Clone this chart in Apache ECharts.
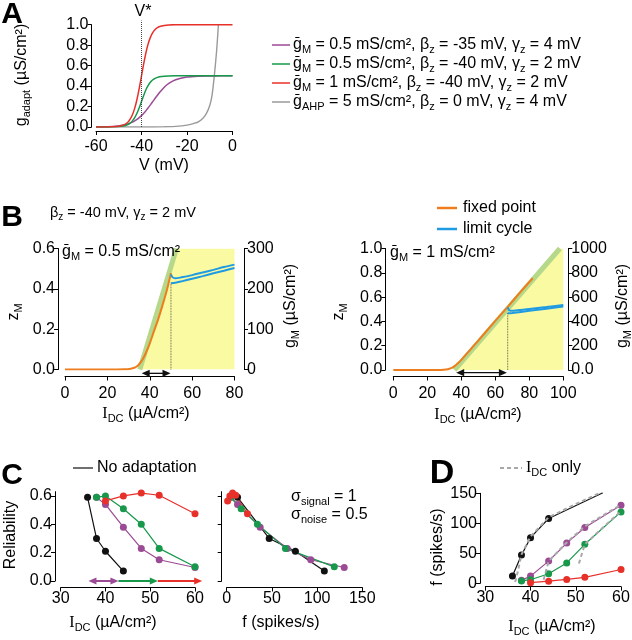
<!DOCTYPE html>
<html><head><meta charset="utf-8">
<script src="https://cdn.jsdelivr.net/npm/echarts@6/dist/echarts.min.js"></script>
<style>html,body{margin:0;padding:0;background:#fff}#c{width:632px;height:640px}</style>
</head><body><div id="c"></div>
<script>
// ---------------- DATA ----------------
// Panel A : adaptation conductance vs V
const vA = [-60,-55,-50,-48,-46,-45,-44,-43,-42,-41,-40,-39,-38,-37,-36,-35,-34,-33,-32,-30,-28,-25,-20,-15,-10,-5,0];
const gPurpleA = [0.001,0.003,0.011,0.019,0.030,0.038,0.048,0.060,0.074,0.091,0.111,0.134,0.160,0.189,0.219,0.250,0.281,0.311,0.339,0.389,0.426,0.462,0.488,0.497,0.499,0.500,0.500];
const gGreenA  = [0.000,0.001,0.004,0.009,0.024,0.038,0.060,0.091,0.135,0.189,0.250,0.311,0.366,0.409,0.440,0.462,0.476,0.485,0.491,0.496,0.499,0.500,0.500,0.500,0.500,0.500,0.500];
const gRedA    = [0.000,0.001,0.007,0.018,0.047,0.076,0.119,0.182,0.269,0.378,0.500,0.622,0.731,0.818,0.881,0.924,0.953,0.971,0.982,0.993,0.998,1.000,1.000,1.000,1.000,1.000,1.000];
const vGrayA = [-60,-40,-30,-25,-20,-17,-15,-13,-11.5,-10,-9,-8,-7,-6.2];
const gGrayA = [0,0,0.002,0.006,0.018,0.035,0.05,0.085,0.13,0.21,0.31,0.5,0.74,1.0];
const vStarLine = [[-40,0],[-40,1.04]];
const legendA = [
  'ḡ_{M} = 0.5 mS/cm², β_{z} = -35 mV, γ_{z} = 4 mV',
  'ḡ_{M} = 0.5 mS/cm², β_{z} = -40 mV, γ_{z} = 2 mV',
  'ḡ_{M} = 1 mS/cm², β_{z} = -40 mV, γ_{z} = 2 mV',
  'ḡ_{AHP} = 5 mS/cm², β_{z} = 0 mV, γ_{z} = 4 mV'
];
// Panel B left (gM = 0.5)
const yellowBL = [[35.3,0],[52.6,0.6],[80,0.6]];
const greenBL  = [[35.3,0],[52.6,0.6]];
const orangeBL = [[0,0],[20,0],[28,0.001],[31,0.004],[33,0.01],[34,0.016],[35,0.026],[36,0.04],[37,0.057],[38,0.078],[40,0.13],[42,0.19],[44,0.25],[46,0.318],[48,0.39],[50,0.478]];
const blueUpBL = [[50,0.472],[50.7,0.458],[52,0.452],[55,0.457],[60,0.468],[65,0.481],[70,0.494],[75,0.508],[80,0.52]];
const blueLoBL = [[50,0.428],[52,0.43],[55,0.437],[60,0.45],[65,0.463],[70,0.477],[75,0.49],[80,0.503]];
const dotBL = [[50,0],[50,0.43]];
const arrowBL = [[36.2,49.8,-0.019,1,1]];
// Panel B right (gM = 1)
const yellowBR = [[36,0],[98,1],[100,1]];
const greenBR  = [[36,0],[98,1]];
const orangeBR = [[0,0],[20,0],[28,0.001],[31,0.004],[33,0.01],[35,0.022],[36,0.032],[37,0.043],[38,0.055],[40,0.083],[45,0.162],[50,0.242],[60,0.404],[67.3,0.52],[75,0.645],[82,0.755]];
const blueUpBR = [[67.3,0.515],[68,0.495],[69,0.488],[72,0.49],[80,0.502],[90,0.518],[100,0.535]];
const blueLoBR = [[67.3,0.468],[68,0.468],[70,0.47],[80,0.487],[90,0.505],[100,0.522]];
const dotBR = [[67.3,0],[67.3,0.47]];
const arrowBR = [[37,66.8,-0.022,1,1]];
// Panels C & D
const iBlack = [36,38,40,44];            const relBlack = [0.59,0.30,0.21,0.07];  const fBlack = [12,47,76,108];
const iPurple = [38,40,44,48,52,60];     const relPurple = [0.59,0.54,0.38,0.23,0.15,0.095]; const fPurple = [5,12,37,67,93,130];
const iGreen = [38,40,44,48,52,60];      const relGreen = [0.59,0.60,0.51,0.40,0.23,0.10];  const fGreen = [4,6,16,34,65,119];
const iRed = [40,44,48,52,60];           const relRed = [0.565,0.60,0.62,0.605,0.475];     const fRed = [1,3.5,6.5,10,23];
const noAdaptExtI = [56], noAdaptExtF = [151];
// [from, to, level, head at start, head at end]
const arrowCRed = [[51.7,61.6,0,0,1]], arrowCGreen = [[42.9,51.7,0,0,1]], arrowCPurple = [[36.2,42.9,0,1,1]];
const idcOnlyI1 = [36.6,37.2,38,40,44,50,56], idcOnlyF1 = [2,20,48,78,110,132,153];
const idcOnlyI2 = [42.9,43.4,44,48,52,56,60], idcOnlyF2 = [6,20,37,68,95,113,131];
const idcOnlyI3 = [50.7,51.3,52,56,60],       idcOnlyF3 = [33,48,65,93,120];
const relTicks = [0,0.2,0.4,0.6];

// ---------------- STYLE ----------------
const FONT = "'Liberation Sans', Arial, Helvetica, sans-serif";
const SERIF = "'Liberation Serif', 'Times New Roman', serif";
const PURPLE='#9b4a94', GREEN='#17984a', RED='#e8302a', GRAY='#9a9a9a', BLACK='#111111';
const ORANGE='#ee7d1e', BLUE='#1e9be2', LGREEN='#b5d88a', YELLOW='#fafaa2', DASHGRAY='#a8a8a8';

const zip = (xs, ys) => xs.map((x,i)=>[x, ys[i]]);
const f1 = v => v.toFixed(1);

function ax(o){
  const base = {type:'value', splitLine:{show:false},
    axisLine:{show:true, onZero:false, lineStyle:{color:'#000', width:1}},
    axisTick:{show:true, length:4, inside:false, lineStyle:{color:'#000', width:1}},
    axisLabel:{show:true, color:'#000', fontSize:16, fontFamily:FONT, margin:3}};
  for (const k in o){
    if (base[k] && typeof base[k]==='object' && typeof o[k]==='object' && !Array.isArray(o[k])) base[k]=Object.assign({}, base[k], o[k]);
    else base[k]=o[k];
  }
  return base;
}
function line(xi, yi, data, color, w, extra){
  return Object.assign({type:'line', xAxisIndex:xi, yAxisIndex:yi, data:data, symbol:'none',
    lineStyle:{color:color, width:w}, itemStyle:{color:color}, silent:true}, extra||{});
}
function dots(xi, yi, data, color, extra){
  return Object.assign({type:'line', xAxisIndex:xi, yAxisIndex:yi, data:data, symbol:'circle', symbolSize:7,
    showSymbol:true, lineStyle:{color:color, width:1.2}, itemStyle:{color:color}, silent:true}, extra||{});
}
// arrows drawn through the axes' scales (api.coord)
function arrows(xi, yi, rows, color, w){
  return {type:'custom', xAxisIndex:xi, yAxisIndex:yi, data:rows, clip:false, silent:true, z:6,
    encode:{x:[0,1], y:2},
    renderItem:function(params, api){
      const y = api.value(2);
      const p0 = api.coord([api.value(0), y]);
      const p1 = api.coord([api.value(1), y]);
      const hs = api.value(3), he = api.value(4);
      const L = 8, H = 3.6;
      const ch = [{type:'line', shape:{x1:p0[0]+(hs?L-1:0), y1:p0[1], x2:p1[0]-(he?L-1:0), y2:p1[1]},
        style:{stroke:color, lineWidth:w, fill:null}}];
      if (hs) ch.push({type:'polygon', shape:{points:[[p0[0],p0[1]],[p0[0]+L,p0[1]-H],[p0[0]+L,p0[1]+H]]}, style:{fill:color}});
      if (he) ch.push({type:'polygon', shape:{points:[[p1[0],p1[1]],[p1[0]-L,p1[1]-H],[p1[0]-L,p1[1]+H]]}, style:{fill:color}});
      return {type:'group', children:ch};
    }};
}

// rich text: _{sub}, !{serif}
function rt(s){
  const re=/([_!])\{([^}]*)\}/g; let out='', last=0, m;
  while((m=re.exec(s))){
    if (m.index>last) out+='{n|'+s.slice(last,m.index)+'}';
    out+='{'+(m[1]==='_'?'s':'i')+'|'+m[2]+'}';
    last=re.lastIndex;
  }
  if (last<s.length) out+='{n|'+s.slice(last)+'}';
  return out;
}
function richOf(fs){
  return {
    n:{fontSize:fs, fontFamily:FONT},
    s:{fontSize:Math.round(fs*0.68), fontFamily:FONT, padding:[Math.round(fs*0.55),0,0,0]},
    i:{fontSize:fs, fontFamily:SERIF}
  };
}
function txt(x,y,s,o){ o=o||{}; const fs=o.fs||16;
  return {type:'text', x:x, y:y, rotation:o.rot||0, silent:true, z:50,
    style:{text:rt(s), rich:richOf(fs), fill:'#000', fontSize:fs, fontFamily:FONT, align:o.align||'left', verticalAlign:'middle'}};
}
function big(x,y,s,fs){ return {type:'text', x:x, y:y, silent:true, z:50,
  style:{text:s, fill:'#000', font:'bold '+fs+'px '+FONT, align:'center', verticalAlign:'middle'}}; }
function seg(x1,y1,x2,y2,color,w,dash){ return {type:'line', silent:true, z:50, shape:{x1:x1,y1:y1,x2:x2,y2:y2},
  style:{stroke:color, lineWidth:w, lineDash:dash||null}}; }
const ROT = Math.PI/2;

// ---------------- OPTION ----------------
const grids = [
  {left:96, top:24.7, width:136.5, height:102.3},
  {left:65, top:248.5, width:169.5, height:121},
  {left:393.3, top:248.5, width:170, height:121.5},
  {left:60.7, top:491.7, width:134.3, height:89.3},
  {left:226.7, top:491.7, width:135.6, height:89.3},
  {left:485.3, top:493.3, width:135.7, height:90}
].map(g=>Object.assign({outerBoundsMode:'none', containLabel:false, show:false}, g));

const xAxes = [
  ax({gridIndex:0, min:-60, max:0, interval:20, position:'bottom', offset:4, axisLabel:{margin:8}}),
  ax({gridIndex:1, min:0, max:80, interval:20, position:'bottom', offset:7, axisLabel:{margin:9}}),
  ax({gridIndex:2, min:0, max:100, interval:20, position:'bottom', offset:6.5, axisLabel:{margin:9}}),
  ax({gridIndex:3, min:30, max:60, interval:10, position:'bottom', offset:6.5}),
  ax({gridIndex:4, min:0, max:150, interval:50, position:'bottom', offset:6.5}),
  ax({gridIndex:5, min:30, max:60, interval:10, position:'bottom', offset:3.4})
];
const yAxes = [
  ax({gridIndex:0, min:0, max:1, interval:0.2, position:'left', offset:4.5, axisLabel:{formatter:f1}}),
  ax({gridIndex:1, min:0, max:0.6, interval:0.2, position:'left', offset:7, axisLabel:{formatter:f1}}),
  ax({gridIndex:1, min:0, max:300, interval:100, position:'right', offset:9.5}),
  ax({gridIndex:2, min:0, max:1, interval:0.2, position:'left', offset:8, axisLabel:{formatter:f1}}),
  ax({gridIndex:2, min:0, max:1000, interval:200, position:'right', offset:5, axisLabel:{formatter:v=>v===0?'0.0':String(v)}}),
  ax({gridIndex:3, min:0, max:0.63, position:'left', offset:5.7, axisTick:{customValues:relTicks}, axisLabel:{customValues:relTicks, formatter:f1}}),
  ax({gridIndex:4, min:0, max:0.63, position:'left', offset:5, axisTick:{customValues:relTicks}, axisLabel:{show:false}}),
  ax({gridIndex:5, min:0, max:150, interval:50, position:'left', offset:5.3})
];

const series = [
  // A
  line(0,0, zip(vGrayA,gGrayA), GRAY, 1.4, {smooth:0.3}),
  line(0,0, zip(vA,gPurpleA), PURPLE, 1.5, {smooth:0.3}),
  line(0,0, zip(vA,gGreenA), GREEN, 1.5, {smooth:0.3}),
  line(0,0, zip(vA,gRedA), RED, 1.5, {smooth:0.3}),
  line(0,0, vStarLine, '#444', 1, {clip:false, lineStyle:{color:'#444', width:1, type:'dotted'}}),
  // B left
  line(1,1, yellowBL, YELLOW, 0, {lineStyle:{width:0, opacity:0}, areaStyle:{color:YELLOW, opacity:1}, z:1}),
  line(1,1, greenBL, LGREEN, 5, {z:2}),
  line(1,1, orangeBL, ORANGE, 2, {z:3, smooth:0.3}),
  line(1,1, blueUpBL, BLUE, 2, {z:3, smooth:0.3}),
  line(1,1, blueLoBL, BLUE, 2, {z:3, smooth:0.3}),
  line(1,1, dotBL, '#333', 0.8, {z:3, clip:false, lineStyle:{color:'#333', width:0.8, type:'dotted'}}),
  arrows(1,1, arrowBL, BLACK, 1.3),
  // B right
  line(2,3, yellowBR, YELLOW, 0, {lineStyle:{width:0, opacity:0}, areaStyle:{color:YELLOW, opacity:1}, z:1}),
  line(2,3, greenBR, LGREEN, 5, {z:2}),
  line(2,3, orangeBR, ORANGE, 2, {z:3, smooth:0.3}),
  line(2,3, blueUpBR, BLUE, 2, {z:3, smooth:0.3}),
  line(2,3, blueLoBR, BLUE, 2, {z:3, smooth:0.3}),
  line(2,3, dotBR, '#333', 0.8, {z:3, clip:false, lineStyle:{color:'#333', width:0.8, type:'dotted'}}),
  arrows(2,3, arrowBR, BLACK, 1.3),
  // C left
  dots(3,5, zip(iBlack,relBlack), BLACK),
  dots(3,5, zip(iPurple,relPurple), PURPLE),
  dots(3,5, zip(iGreen,relGreen), GREEN),
  dots(3,5, zip(iRed,relRed), RED),
  arrows(3,5, arrowCRed, RED, 2),
  arrows(3,5, arrowCGreen, GREEN, 2),
  arrows(3,5, arrowCPurple, PURPLE, 2),
  // C right
  dots(4,6, zip(fBlack,relBlack), BLACK),
  dots(4,6, zip(fPurple,relPurple), PURPLE),
  dots(4,6, zip(fGreen,relGreen), GREEN),
  dots(4,6, zip(fRed,relRed), RED),
  // D
  dots(5,7, zip(iBlack,fBlack).concat(zip(noAdaptExtI,noAdaptExtF).map(p=>({value:p, symbol:'none'}))), BLACK),
  dots(5,7, zip(iPurple,fPurple), PURPLE),
  dots(5,7, zip(iGreen,fGreen), GREEN),
  dots(5,7, zip(iRed,fRed), RED),
  line(5,7, zip(idcOnlyI1,idcOnlyF1), DASHGRAY, 2, {lineStyle:{color:DASHGRAY, width:2, type:[4,3]}, z:4}),
  line(5,7, zip(idcOnlyI2,idcOnlyF2), DASHGRAY, 2, {lineStyle:{color:DASHGRAY, width:2, type:[4,3]}, z:4}),
  line(5,7, zip(idcOnlyI3,idcOnlyF3), DASHGRAY, 2, {lineStyle:{color:DASHGRAY, width:2, type:[4,3]}, z:4})
];

const legendAColors = [PURPLE, GREEN, RED, GRAY];
const legendAY = [45, 64, 83, 102];
const graphics = [
  big(12,15,'A',30), big(12,218,'B',30), big(12,476,'C',30), big(442,474,'D',34),
  txt(143,12,'V*',{align:'center'}),
  txt(22,75,'g_{adapt} (µS/cm²)',{rot:ROT, align:'center'}),
  txt(164,166,'V (mV)',{align:'center'}),
  txt(50,213,'β_{z} = -40 mV, γ_{z} = 2 mV',{fs:14.5}),
  txt(62,252,'ḡ_{M} = 0.5 mS/cm²'),
  txt(390,253,'ḡ_{M} = 1 mS/cm²'),
  seg(437,208,457,208,ORANGE,2.5), txt(463,208,'fixed point'),
  seg(437,229,457,229,BLUE,2.5), txt(463,229,'limit cycle'),
  txt(14,312,'z_{M}',{rot:ROT, align:'center'}),
  txt(339,312,'z_{M}',{rot:ROT, align:'center'}),
  txt(291,306,'g_{M} (µS/cm²)',{rot:ROT, align:'center'}),
  txt(623,306,'g_{M} (µS/cm²)',{rot:ROT, align:'center'}),
  txt(146,414,'!{I}_{DC} (µA/cm²)',{align:'center'}),
  txt(478,415,'!{I}_{DC} (µA/cm²)',{align:'center'}),
  seg(73,468,93,468,BLACK,1.2), txt(97,468,'No adaptation'),
  txt(11,535,'Reliability',{rot:ROT, align:'center'}),
  txt(113,623,'!{I}_{DC} (µA/cm²)',{align:'center'}),
  txt(281,623,'f (spikes/s)',{align:'center'}),
  txt(291,497,'σ_{signal} = 1'),
  txt(291,515,'σ_{noise} = 0.5'),
  seg(500,468,522,468,DASHGRAY,2,[4,3]), txt(526,468,'!{I}_{DC} only'),
  txt(438,547,'f (spikes/s)',{rot:ROT, align:'center'}),
  txt(552,627,'!{I}_{DC} (µA/cm²)',{align:'center'})
];
legendA.forEach((s,i)=>{
  graphics.push(seg(272,legendAY[i],290,legendAY[i],legendAColors[i],1.5));
  graphics.push(txt(293,legendAY[i],s));
});

const chart = echarts.init(document.getElementById('c'), null, {renderer:'canvas'});
chart.setOption({
  animation:false, backgroundColor:'#fff',
  textStyle:{fontFamily:FONT},
  grid:grids, xAxis:xAxes, yAxis:yAxes, series:series, graphic:graphics
});
</script></body></html>
